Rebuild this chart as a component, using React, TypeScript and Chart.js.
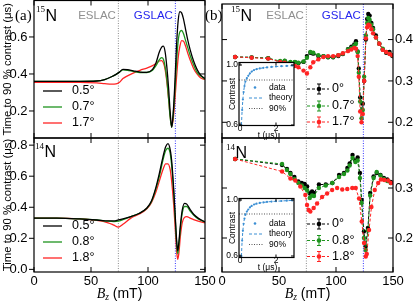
import { useEffect, useRef } from "react";
import { Chart, registerables } from "chart.js";

Chart.register(...registerables);

const W = 415;
const H = 305;
const SANS = "'Liberation Sans', Arial, Helvetica, sans-serif";
const SERIF = "'Liberation Serif', 'Times New Roman', 'DejaVu Serif', serif";

// ---------------- data ----------------
const ESLAC_BZ = 74;
const GSLAC_BZ = 124;
const X_MIN = 0;
const X_MAX = 150;
const X_TICKS = [0, 50, 100, 150];

// (a) 15N simulated curves
const BZ_A15 = [0, 20, 40, 55, 62, 68, 72, 75, 78, 82, 87, 93, 99, 104, 107, 110, 112, 113.5, 115, 116.5, 118, 119.5, 120.8, 122, 123.5, 125, 126.5, 128, 129.5, 131, 133, 135, 137, 140, 143, 146, 150];
const A15_05 = [0.36, 0.36, 0.36, 0.362, 0.37, 0.385, 0.398, 0.41, 0.425, 0.424, 0.417, 0.41, 0.409, 0.425, 0.46, 0.52, 0.545, 0.55, 0.52, 0.44, 0.33, 0.19, 0.112, 0.18, 0.34, 0.55, 0.69, 0.737, 0.73, 0.7, 0.64, 0.58, 0.53, 0.47, 0.425, 0.395, 0.375];
const A15_07 = [0.36, 0.36, 0.36, 0.362, 0.37, 0.385, 0.398, 0.41, 0.422, 0.42, 0.414, 0.408, 0.408, 0.42, 0.445, 0.478, 0.488, 0.48, 0.44, 0.37, 0.27, 0.16, 0.112, 0.17, 0.3, 0.46, 0.58, 0.628, 0.635, 0.62, 0.58, 0.54, 0.5, 0.45, 0.41, 0.39, 0.372];
const A15_17 = [0.355, 0.355, 0.355, 0.352, 0.348, 0.345, 0.346, 0.355, 0.375, 0.39, 0.405, 0.42, 0.432, 0.445, 0.457, 0.47, 0.472, 0.46, 0.425, 0.36, 0.27, 0.17, 0.118, 0.15, 0.25, 0.38, 0.49, 0.55, 0.58, 0.578, 0.55, 0.51, 0.475, 0.43, 0.4, 0.38, 0.37];
const LABELS_A15 = ["0.5°", "0.7°", "1.7°"];
const Y_TICKS_A15 = [0.2, 0.4, 0.6];

// (a) 14N simulated curves
const BZ_A14 = [0, 20, 40, 55, 65, 70, 74, 78, 85, 92, 99, 103, 107, 110, 113, 115.5, 117.5, 119.5, 121, 122.5, 124, 125, 126, 127, 128.5, 130, 132, 134, 137, 140, 144, 150];
const A14_05 = [0.33, 0.33, 0.325, 0.318, 0.312, 0.312, 0.318, 0.325, 0.34, 0.36, 0.395, 0.44, 0.53, 0.62, 0.72, 0.79, 0.81, 0.77, 0.68, 0.52, 0.33, 0.2, 0.12, 0.17, 0.29, 0.38, 0.425, 0.42, 0.385, 0.355, 0.33, 0.305];
const A14_08 = [0.33, 0.33, 0.325, 0.318, 0.31, 0.308, 0.31, 0.32, 0.34, 0.36, 0.393, 0.435, 0.52, 0.6, 0.7, 0.765, 0.78, 0.745, 0.65, 0.5, 0.31, 0.18, 0.1, 0.15, 0.27, 0.36, 0.405, 0.405, 0.375, 0.35, 0.325, 0.305];
const A14_18 = [0.33, 0.33, 0.325, 0.315, 0.3, 0.285, 0.272, 0.29, 0.33, 0.355, 0.39, 0.43, 0.5, 0.57, 0.64, 0.68, 0.68, 0.64, 0.55, 0.42, 0.25, 0.13, 0.065, 0.1, 0.22, 0.3, 0.335, 0.34, 0.33, 0.32, 0.31, 0.3];
const LABELS_A14 = ["0.5°", "0.8°", "1.8°"];
const Y_TICKS_A14 = [0.0, 0.2, 0.4, 0.6, 0.8];

// (b) 15N measured points
const BZ_B15 = [11.5, 26, 40.5, 51, 55, 60, 64, 67, 71.5, 74.5, 77.5, 80, 84.5, 89, 93, 97.5, 102, 106, 110.5, 113.5, 116, 117.5, 119, 120, 121.2, 122.4, 123.5, 124.7, 126.2, 127.3, 128.3, 129.5, 131, 132.5, 135, 138, 141, 144, 147, 149.5];
const B15_0 = [0.358, 0.357, 0.355, 0.346, 0.348, 0.344, 0.345, 0.343, 0.346, 0.36, 0.368, 0.366, 0.36, 0.36, 0.357, 0.357, 0.36, 0.365, 0.377, 0.383, 0.388, 0.396, 0.371, 0.33, 0.26, 0.228, 0.245, 0.3, 0.4, 0.45, 0.462, 0.458, 0.44, 0.428, 0.41, 0.39, 0.376, 0.368, 0.37, 0.36];
const B15_07 = [0.358, 0.357, 0.355, 0.348, 0.349, 0.346, 0.346, 0.344, 0.347, 0.356, 0.37, 0.368, 0.362, 0.36, 0.358, 0.358, 0.362, 0.366, 0.376, 0.38, 0.385, 0.39, 0.37, 0.32, 0.25, 0.21, 0.23, 0.31, 0.41, 0.44, 0.452, 0.448, 0.436, 0.425, 0.405, 0.39, 0.378, 0.37, 0.366, 0.362];
const B15_17 = [0.358, 0.356, 0.354, 0.346, 0.344, 0.34, 0.336, 0.333, 0.325, 0.318, 0.333, 0.345, 0.352, 0.358, 0.36, 0.36, 0.362, 0.367, 0.372, 0.376, 0.38, 0.378, 0.36, 0.31, 0.226, 0.2, 0.22, 0.3, 0.403, 0.43, 0.436, 0.434, 0.425, 0.415, 0.405, 0.39, 0.375, 0.37, 0.365, 0.362];
const LABELS_B15 = ["0°", "0.7°", "1.7°"];
const Y_TICKS_B15 = [0.2, 0.3, 0.4];

// (b) 14N measured points
const BZ_B14 = [11.5, 52.7, 57, 60, 63.5, 67, 70, 72.5, 74.7, 77, 79, 80.7, 85, 91, 96.8, 102.7, 107, 110, 112, 114.5, 117, 119, 121, 122.5, 124.5, 126, 128, 130, 133, 135.7, 139, 142, 145, 148];
const B14_0 = [0.358, 0.346, 0.338, 0.33, 0.322, 0.313, 0.31, 0.308, 0.303, 0.289, 0.293, 0.29, 0.307, 0.307, 0.31, 0.326, 0.33, 0.34, 0.349, 0.366, 0.355, 0.361, 0.33, 0.276, 0.213, 0.183, 0.22, 0.29, 0.323, 0.33, 0.326, 0.32, 0.317, 0.312];
const B14_08 = [0.358, 0.348, 0.336, 0.328, 0.318, 0.31, 0.305, 0.3, 0.295, 0.28, 0.285, 0.284, 0.3, 0.305, 0.31, 0.322, 0.328, 0.335, 0.345, 0.36, 0.352, 0.355, 0.32, 0.27, 0.2, 0.176, 0.215, 0.285, 0.32, 0.332, 0.325, 0.318, 0.314, 0.31];
const BZ_B14_18 = [11.5, 52.7, 60, 64.3, 68.7, 73.1, 74.6, 76, 77.5, 80.4, 83.4, 87.8, 92.2, 96.6, 101, 105.5, 109.9, 114.3, 117.3, 120.2, 122.6, 124.6, 126.1, 127, 129, 131.1, 134, 137, 139.4, 142.3, 145.8, 148.2];
const B14_18 = [0.358, 0.333, 0.319, 0.315, 0.303, 0.286, 0.266, 0.256, 0.253, 0.26, 0.269, 0.282, 0.289, 0.296, 0.3, 0.297, 0.298, 0.3, 0.3, 0.279, 0.233, 0.19, 0.163, 0.168, 0.216, 0.262, 0.296, 0.31, 0.317, 0.316, 0.315, 0.31];
const LABELS_B14 = ["0°", "0.8°", "1.8°"];
const Y_TICKS_B14 = [0.2, 0.3];

// insets: contrast vs time
const INSET_T = [0.08, 0.12, 0.16, 0.2, 0.25, 0.3, 0.38, 0.46, 0.55, 0.65, 0.78, 0.92, 1.1, 1.3, 1.5, 1.75, 2.0, 2.3, 2.6, 2.9];
const INSET_C15 = [0.6, 0.7, 0.77, 0.82, 0.86, 0.89, 0.912, 0.928, 0.944, 0.956, 0.966, 0.972, 0.977, 0.981, 0.984, 0.987, 0.99, 0.992, 0.994, 0.996];
const INSET_C14 = [0.6, 0.71, 0.78, 0.83, 0.868, 0.895, 0.917, 0.932, 0.947, 0.958, 0.968, 0.974, 0.979, 0.983, 0.986, 0.989, 0.991, 0.993, 0.995, 0.997];
const INSET_LABELS = ["data", "theory", "90%"];
const INSET_X_TICKS = [0, 2];
const INSET_Y_TICKS = [0.6, 1.0];
const THRESHOLD = 0.9;

const COLORS = ["#000000", "#1e941e", "#ff2424"];
const BLUE = "#3b8fd4";

// ---------------- helpers ----------------
const pts = (xs: number[], ys: number[]) => xs.map((x, i) => ({ x, y: ys[i] }));

function curve(label: string, xs: number[], ys: number[], color: string) {
  return {
    label, data: pts(xs, ys), borderColor: color, backgroundColor: color,
    borderWidth: 1.3, pointRadius: 0, cubicInterpolationMode: "monotone", fill: false,
  };
}
function markers(label: string, xs: number[], ys: number[], color: string, order: number) {
  return {
    label, data: pts(xs, ys), borderColor: color, backgroundColor: color,
    borderWidth: 1, borderDash: [3, 2], pointRadius: 2.2, pointBorderWidth: 0,
    pointBackgroundColor: color, tension: 0, fill: false, order,
  };
}

function txt(ctx: CanvasRenderingContext2D, s: string, x: number, y: number, font: string, color = "#000", align: CanvasTextAlign = "left", base: CanvasTextBaseline = "alphabetic") {
  ctx.font = font; ctx.fillStyle = color; ctx.textAlign = align; ctx.textBaseline = base;
  ctx.fillText(s, x, y);
}

interface MainSpec {
  area: [number, number, number, number];
  yRange: [number, number];
  yTicks: number[];
  yRight: boolean;
  showX: boolean;
  yTitle: boolean;
  tickOut: boolean;
  yPad: number;
  tag?: [string, number, number];
  iso: [string, number, number];
  lacLabels: boolean;
  legend: { kind: "line" | "marker"; x: number; ys: number[] };
  datasets: any[];
}

function mainPlugin(spec: MainSpec) {
  return {
    id: "decor",
    beforeDatasetsDraw(chart: any) {
      const { ctx, chartArea: ca } = chart;
      const x = chart.scales.x;
      ctx.save();
      ctx.lineWidth = 1;
      const lines: [number, string][] = [[ESLAC_BZ, "#8c8c8c"], [GSLAC_BZ, "#3434ff"]];
      for (const [v, c] of lines) {
        const px = x.getPixelForValue(v);
        ctx.strokeStyle = c;
        ctx.setLineDash([1, 1.5]);
        ctx.beginPath(); ctx.moveTo(px, ca.top); ctx.lineTo(px, ca.bottom); ctx.stroke();
      }
      ctx.restore();
    },
    afterDraw(chart: any) {
      const { ctx, chartArea: ca } = chart;
      const x = chart.scales.x, y = chart.scales.y;
      ctx.save();
      ctx.strokeStyle = "#000"; ctx.lineWidth = 1.2; ctx.setLineDash([]);
      ctx.strokeRect(ca.left, ca.top, ca.right - ca.left, ca.bottom - ca.top);
      ctx.lineWidth = 1;
      ctx.beginPath();
      for (const t of y.ticks) {
        const py = y.getPixelForValue(t.value);
        if (spec.tickOut) { ctx.moveTo(ca.left - 5, py); ctx.lineTo(ca.left, py); }
        else { ctx.moveTo(ca.left, py); ctx.lineTo(ca.left + 5, py); }
        ctx.moveTo(ca.right - 5, py); ctx.lineTo(ca.right, py);
      }
      for (const t of x.ticks) {
        const px = x.getPixelForValue(t.value);
        ctx.moveTo(px, ca.top); ctx.lineTo(px, ca.top + 5);
        ctx.moveTo(px, ca.bottom); ctx.lineTo(px, ca.bottom - 5);
      }
      ctx.stroke();

      // labels
      if (spec.tag) txt(ctx, spec.tag[0], spec.tag[1], spec.tag[2], `15px ${SERIF}`);
      const [mass, ix, iy] = spec.iso;
      ctx.font = `9px ${SERIF}`;
      const mw = ctx.measureText(mass).width;
      txt(ctx, mass, ix, iy - 8.5, `9px ${SERIF}`);
      txt(ctx, "N", ix + mw + 0.5, iy, `16px ${SANS}`);
      if (spec.lacLabels) {
        txt(ctx, "ESLAC", x.getPixelForValue(ESLAC_BZ) - 2.5, 18.5, `11.5px ${SANS}`, "#8f8f8f", "right");
        txt(ctx, "GSLAC", x.getPixelForValue(GSLAC_BZ) - 2.5, 18.5, `11.5px ${SANS}`, "#2525ee", "right");
      }

      // legend
      const lg = spec.legend;
      chart.data.datasets.forEach((ds: any, i: number) => {
        const ly = lg.ys[i];
        const c = ds.borderColor;
        ctx.strokeStyle = c; ctx.fillStyle = c;
        if (lg.kind === "line") {
          ctx.lineWidth = 1.3; ctx.setLineDash([]);
          ctx.beginPath(); ctx.moveTo(lg.x, ly); ctx.lineTo(lg.x + 19, ly); ctx.stroke();
          txt(ctx, ds.label, lg.x + 29, ly, `12.5px ${SANS}`, "#000", "left", "middle");
        } else {
          ctx.lineWidth = 1; ctx.setLineDash([3, 2]);
          ctx.beginPath(); ctx.moveTo(lg.x, ly); ctx.lineTo(lg.x + 22, ly); ctx.stroke();
          ctx.setLineDash([]);
          const mx = lg.x + 12;
          ctx.beginPath();
          ctx.moveTo(mx, ly - 5); ctx.lineTo(mx, ly + 5);
          ctx.moveTo(mx - 2, ly - 5); ctx.lineTo(mx + 2, ly - 5);
          ctx.moveTo(mx - 2, ly + 5); ctx.lineTo(mx + 2, ly + 5);
          ctx.stroke();
          ctx.beginPath(); ctx.arc(mx, ly, 2.3, 0, Math.PI * 2); ctx.fill();
          txt(ctx, ds.label, lg.x + 25, ly, `12.5px ${SANS}`, "#000", "left", "middle");
        }
      });

      // x-axis title
      if (spec.showX) {
        const cx = (ca.left + ca.right) / 2;
        const by = 297.5;
        const f1 = `italic 14px ${SERIF}`, f2 = `italic 9.5px ${SERIF}`, f3 = `14px ${SANS}`;
        ctx.font = f1; const w1 = ctx.measureText("B").width;
        ctx.font = f2; const w2 = ctx.measureText("z").width;
        ctx.font = f3; const w3 = ctx.measureText(" (mT)").width;
        let sx = cx - (w1 + w2 + w3) / 2;
        txt(ctx, "B", sx, by, f1); sx += w1;
        txt(ctx, "z", sx, by + 2.5, f2); sx += w2;
        txt(ctx, " (mT)", sx, by, f3);
      }
      ctx.restore();
    },
  };
}

function mainConfig(spec: MainSpec): any {
  const [L, T, R, B] = spec.area;
  return {
    type: "line",
    data: { datasets: spec.datasets },
    options: {
      responsive: false, animation: false, events: [],
      layout: { padding: { left: spec.yRight ? L : 0, right: spec.yRight ? 0 : W - R, top: T, bottom: spec.showX ? 0 : H - B } },
      plugins: { legend: { display: false }, tooltip: { enabled: false } },
      scales: {
        x: {
          type: "linear", position: "bottom", min: X_MIN, max: X_MAX, bounds: "data",
          grid: { display: false, drawTicks: false }, border: { display: false },
          ticks: { display: spec.showX, padding: 1.2, color: "#000", font: { family: SANS, size: 13 }, maxRotation: 0, autoSkip: false, callback: (v: any) => String(v) },
          afterBuildTicks: (s: any) => { s.ticks = X_TICKS.map((v) => ({ value: v })); },
          afterFit: (s: any) => { s.height = spec.showX ? H - B : 0; s.paddingLeft = 0; s.paddingRight = 0; },
        },
        y: {
          type: "linear", position: spec.yRight ? "right" : "left", min: spec.yRange[0], max: spec.yRange[1], bounds: "data",
          grid: { display: false, drawTicks: false }, border: { display: false },
          ticks: { padding: spec.yPad, color: "#000", font: { family: SANS, size: 13 }, autoSkip: false, callback: (v: any) => Number(v).toFixed(1) },
          title: { display: spec.yTitle, text: "Time to 90 % contrast (μs)", color: "#000", font: { family: SANS, size: 11.3 }, padding: { top: 1.5, bottom: 0 } },
          afterBuildTicks: (s: any) => { s.ticks = spec.yTicks.map((v) => ({ value: v })); },
          afterFit: (s: any) => { s.width = spec.yRight ? W - R : L; s.paddingTop = 0; s.paddingBottom = 0; },
        },
      },
    },
    plugins: [mainPlugin(spec)],
  };
}

interface InsetSpec { area: [number, number, number, number]; yRange: [number, number]; values: number[]; }

const INSET_Y_AXIS_W = 17;
const INSET_X_AXIS_H = 13;

function insetConfig(spec: InsetSpec): any {
  const [L, T, R, B] = spec.area;
  const plugin = {
    id: "inset",
    beforeDraw(chart: any) {
      const { ctx, chartArea: ca } = chart;
      ctx.save(); ctx.fillStyle = "#fff";
      ctx.fillRect(ca.left, ca.top, ca.right - ca.left, ca.bottom - ca.top);
      ctx.restore();
    },
    beforeDatasetsDraw(chart: any) {
      const { ctx, chartArea: ca } = chart;
      const py = chart.scales.y.getPixelForValue(THRESHOLD);
      ctx.save(); ctx.strokeStyle = "#555"; ctx.lineWidth = 1; ctx.setLineDash([1, 1.5]);
      ctx.beginPath(); ctx.moveTo(ca.left, py); ctx.lineTo(ca.right, py); ctx.stroke();
      ctx.restore();
    },
    afterDraw(chart: any) {
      const { ctx, chartArea: ca } = chart;
      const x = chart.scales.x, y = chart.scales.y;
      ctx.save();
      ctx.strokeStyle = "#000"; ctx.lineWidth = 1.2;
      ctx.strokeRect(ca.left, ca.top, ca.right - ca.left, ca.bottom - ca.top);
      ctx.lineWidth = 1; ctx.beginPath();
      for (const t of y.ticks) {
        const py = y.getPixelForValue(t.value);
        ctx.moveTo(ca.left, py); ctx.lineTo(ca.left + 3, py);
        ctx.moveTo(ca.right, py); ctx.lineTo(ca.right - 3, py);
      }
      for (const t of x.ticks) {
        const px = x.getPixelForValue(t.value);
        ctx.moveTo(px, ca.bottom); ctx.lineTo(px, ca.bottom - 3);
        ctx.moveTo(px, ca.top); ctx.lineTo(px, ca.top + 3);
      }
      ctx.stroke();
      // legend
      const lx = ca.left + 10, tx = ca.left + 30;
      const y0 = ca.top + 25, y1 = ca.top + 35.5, y2 = ca.top + 46;
      ctx.fillStyle = BLUE;
      ctx.beginPath(); ctx.arc(ca.left + 16, y0, 1.3, 0, Math.PI * 2); ctx.fill();
      ctx.strokeStyle = BLUE; ctx.setLineDash([3, 2]);
      ctx.beginPath(); ctx.moveTo(lx, y1); ctx.lineTo(lx + 14, y1); ctx.stroke();
      ctx.strokeStyle = "#555"; ctx.setLineDash([1, 1.5]);
      ctx.beginPath(); ctx.moveTo(lx, y2); ctx.lineTo(lx + 14, y2); ctx.stroke();
      ctx.setLineDash([]);
      const f = `8.5px ${SANS}`;
      txt(ctx, INSET_LABELS[0], tx, y0, f, "#000", "left", "middle");
      txt(ctx, INSET_LABELS[1], tx, y1, f, "#000", "left", "middle");
      txt(ctx, INSET_LABELS[2], tx, y2, f, "#000", "left", "middle");
      // axis titles
      txt(ctx, "t (μs)", (ca.left + ca.right) / 2 + 1, ca.bottom + 10.5, f, "#000", "center", "middle");
      ctx.save();
      ctx.translate(ca.left - 6, (ca.top + ca.bottom) / 2);
      ctx.rotate(-Math.PI / 2);
      txt(ctx, "Contrast", 0, 0, `8.5px ${SANS}`, "#000", "center", "middle");
      ctx.restore();
      ctx.restore();
    },
  };
  return {
    type: "line",
    data: {
      datasets: [
        { label: INSET_LABELS[0], data: pts(INSET_T, spec.values), showLine: false, pointRadius: 1.1, pointBorderWidth: 0, pointBackgroundColor: BLUE, borderColor: BLUE },
        { label: INSET_LABELS[1], data: pts(INSET_T, spec.values), borderColor: BLUE, borderWidth: 1, borderDash: [3, 2], pointRadius: 0, cubicInterpolationMode: "monotone", fill: false },
      ],
    },
    options: {
      responsive: false, animation: false, events: [],
      layout: { padding: { left: L - INSET_Y_AXIS_W, right: W - R, top: T, bottom: H - B - INSET_X_AXIS_H } },
      plugins: { legend: { display: false }, tooltip: { enabled: false } },
      scales: {
        x: {
          type: "linear", min: -0.055, max: 3.0, bounds: "data",
          grid: { display: false, drawTicks: false }, border: { display: false },
          ticks: { padding: -1.5, color: "#000", font: { family: SANS, size: 8.5 }, autoSkip: false, maxRotation: 0, callback: (v: any) => String(v) },
          afterBuildTicks: (s: any) => { s.ticks = INSET_X_TICKS.map((v) => ({ value: v })); },
          afterFit: (s: any) => { s.height = INSET_X_AXIS_H; s.paddingLeft = 0; s.paddingRight = 0; },
        },
        y: {
          type: "linear", min: spec.yRange[0], max: spec.yRange[1], bounds: "data",
          grid: { display: false, drawTicks: false }, border: { display: false },
          ticks: { padding: 1, color: "#000", font: { family: SANS, size: 8.5 }, autoSkip: false, callback: (v: any) => Number(v).toFixed(1) },
          afterBuildTicks: (s: any) => { s.ticks = INSET_Y_TICKS.map((v) => ({ value: v })); },
          afterFit: (s: any) => { s.width = INSET_Y_AXIS_W; s.paddingTop = 0; s.paddingBottom = 0; },
        },
      },
    },
    plugins: [plugin],
  };
}

// ---------------- panel specs ----------------
const SPECS: MainSpec[] = [
  {
    area: [34, 0.5, 205, 138], yRange: [0.054, 0.797], yTicks: Y_TICKS_A15, yRight: false, showX: false, yTitle: true, tickOut: true, yPad: 6.5,
    tag: ["(a)", 15, 19.5], iso: ["15", 36, 20.5], lacLabels: true,
    legend: { kind: "line", x: 43, ys: [91, 107, 123] },
    datasets: [curve(LABELS_A15[0], BZ_A15, A15_05, COLORS[0]), curve(LABELS_A15[1], BZ_A15, A15_07, COLORS[1]), curve(LABELS_A15[2], BZ_A15, A15_17, COLORS[2])],
  },
  {
    area: [34, 138, 205, 272], yRange: [-0.017, 0.846], yTicks: Y_TICKS_A14, yRight: false, showX: true, yTitle: true, tickOut: true, yPad: 6.5,
    iso: ["14", 35, 157], lacLabels: false,
    legend: { kind: "line", x: 43, ys: [226, 242, 258] },
    datasets: [curve(LABELS_A14[0], BZ_A14, A14_05, COLORS[0]), curve(LABELS_A14[1], BZ_A14, A14_08, COLORS[1]), curve(LABELS_A14[2], BZ_A14, A14_18, COLORS[2])],
  },
  {
    area: [222, 0.5, 393, 138], yRange: [0.162, 0.486], yTicks: Y_TICKS_B15, yRight: true, showX: false, yTitle: false, tickOut: false, yPad: 2,
    tag: ["(b)", 205, 19.5], iso: ["15", 231, 20.5], lacLabels: true,
    legend: { kind: "marker", x: 307, ys: [89, 106, 122] },
    datasets: [markers(LABELS_B15[0], BZ_B15, B15_0, COLORS[0], 2), markers(LABELS_B15[1], BZ_B15, B15_07, COLORS[1], 1), markers(LABELS_B15[2], BZ_B15, B15_17, COLORS[2], 0)],
  },
  {
    area: [222, 138, 393, 272], yRange: [0.132, 0.4], yTicks: Y_TICKS_B14, yRight: true, showX: true, yTitle: false, tickOut: false, yPad: 2,
    iso: ["14", 226, 158], lacLabels: false,
    legend: { kind: "marker", x: 307, ys: [224, 240.5, 256.5] },
    datasets: [markers(LABELS_B14[0], BZ_B14, B14_0, COLORS[0], 2), markers(LABELS_B14[1], BZ_B14, B14_08, COLORS[1], 1), markers(LABELS_B14[2], BZ_B14_18, B14_18, COLORS[2], 0)],
  },
];

const INSETS: InsetSpec[] = [
  { area: [239, 62.5, 294, 125.5], yRange: [0.5967, 1.0167], values: INSET_C15 },
  { area: [239, 198.5, 294, 257.5], yRange: [0.5893, 1.0107], values: INSET_C14 },
];

function ChartCanvas({ make }: { make: () => any }) {
  const ref = useRef<HTMLCanvasElement>(null);
  useEffect(() => {
    const chart = new Chart(ref.current as HTMLCanvasElement, make());
    return () => chart.destroy();
  }, []);
  return (
    <canvas
      ref={ref}
      width={W}
      height={H}
      style={{ position: "absolute", left: 0, top: 0, width: W, height: H, pointerEvents: "none" }}
    />
  );
}

export default function App() {
  return (
    <div style={{ position: "absolute", left: 0, top: 0, width: W, height: H, background: "#fff", overflow: "hidden" }}>
      {SPECS.map((s, i) => (
        <ChartCanvas key={"m" + i} make={() => mainConfig(s)} />
      ))}
      {INSETS.map((s, i) => (
        <ChartCanvas key={"i" + i} make={() => insetConfig(s)} />
      ))}
    </div>
  );
}
